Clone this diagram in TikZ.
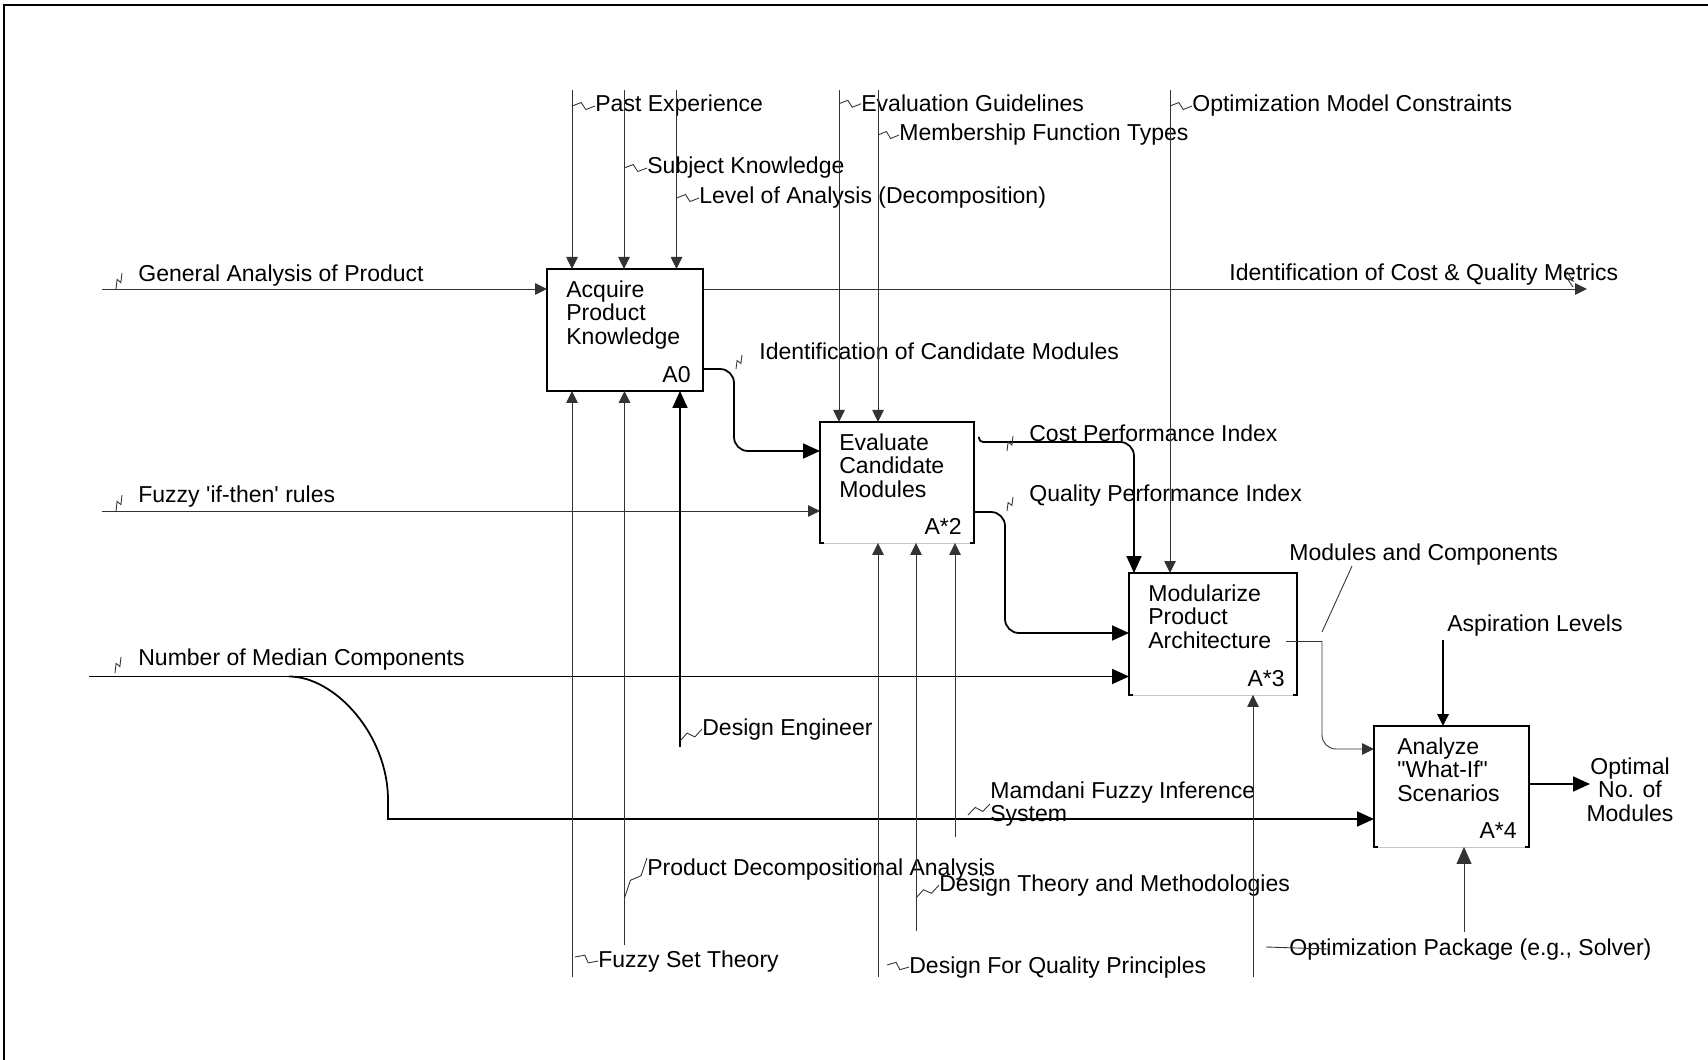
\documentclass[tikz,border=0pt]{standalone}
\usepackage{fontspec}
\setmainfont{Liberation Sans}
\usetikzlibrary{arrows.meta,calc}
\tikzset{
  actbox/.style={anchor=north west,inner sep=0pt,outer sep=0pt},
  boxtxt/.style={anchor=north west,align=left,inner sep=0pt},
  boxid/.style={anchor=south east,inner sep=0pt},
  lbl/.style={anchor=base west,inner sep=0pt},
  thinln/.style={line width=0.5pt,black!80},
  thickln/.style={line width=1pt},
  arr/.style={-{Triangle[length=2.4mm,width=2.3mm]}},
  barr/.style={-{Triangle[length=3.4mm,width=3mm]}},
  squig/.style={to path={-- ($(\tikztostart)!0.4!(\tikztotarget)!0.07cm!90:(\tikztotarget)$) -- ($(\tikztostart)!0.6!(\tikztotarget)!0.07cm!-90:(\tikztotarget)$) -- (\tikztotarget)}},
  bolt/.style={to path={-- ($(\tikztostart)!0.6!(\tikztotarget)+(-2.5,0)$) -- ($(\tikztostart)!0.4!(\tikztotarget)+(2.5,0)$) -- (\tikztotarget)}}
}
\begin{document}
\begin{tikzpicture}[x=0.02cm,y=-0.02cm,font=\fontsize{13.1pt}{13.4pt}\selectfont]
\useasboundingbox (0,0) rectangle (1708,1060);
\draw[line width=1.5pt] (4,1060) -- (4,5) -- (1708,5);

\node[actbox,draw,line width=0.8pt,minimum width=3.12cm,minimum height=2.44cm] (a0) at (547,269) {};
\node[actbox,minimum width=3.08cm,minimum height=2.42cm] (a2) at (820,422) {};
\node[actbox,minimum width=3.36cm,minimum height=2.44cm] (a3) at (1129,573) {};
\node[actbox,minimum width=3.10cm,minimum height=2.42cm] (a4) at (1374,726) {};
\draw[gray!45,line width=0.5pt] (a2.south west) -- (a2.south east);
\draw[line width=0.8pt] ([xshift=0.08cm]a2.south west) -- (a2.south west) -- (a2.north west) -- (a2.north east) -- (a2.south east) -- ([xshift=-0.08cm]a2.south east);
\draw[gray!45,line width=0.5pt] (a3.south west) -- (a3.south east);
\draw[line width=0.8pt] ([xshift=0.08cm]a3.south west) -- (a3.south west) -- (a3.north west) -- (a3.north east) -- (a3.south east) -- ([xshift=-0.08cm]a3.south east);
\draw[gray!45,line width=0.5pt] (a4.south west) -- (a4.south east);
\draw[line width=0.8pt] ([xshift=0.08cm]a4.south west) -- (a4.south west) -- (a4.north west) -- (a4.north east) -- (a4.south east) -- ([xshift=-0.08cm]a4.south east);

\node[boxtxt] (t0) at ($(a0.north west)+(19,11)$) {Acquire\\Product\\Knowledge};
\node[boxid] (n0) at ($(a0.south east)+(-12,-8)$) {A0};
\node[boxtxt] (t2) at ($(a2.north west)+(19,11)$) {Evaluate\\Candidate\\Modules};
\node[boxid] (n2) at ($(a2.south east)+(-12,-8)$) {A*2};
\node[boxtxt] (t3) at ($(a3.north west)+(19,11)$) {Modularize\\Product\\Architecture};
\node[boxid] (n3) at ($(a3.south east)+(-12,-8)$) {A*3};
\node[boxtxt] (t4) at ($(a4.north west)+(23,11)$) {Analyze\\\textquotedbl What-If\textquotedbl\\Scenarios};
\node[boxid] (n4) at ($(a4.south east)+(-12,-8)$) {A*4};

\node[lbl] (lPast) at (595,112) {Past Experience};
\node[lbl] (lEval) at (861,112) {Evaluation Guidelines};
\node[lbl] (lOptM) at (1192,112) {Optimization Model Constraints};
\node[lbl] (lMemb) at (899,141) {Membership Function Types};
\node[lbl] (lSubj) at (647,174) {Subject Knowledge};
\node[lbl] (lLevel) at (699,204) {Level of Analysis (Decomposition)};
\node[lbl] (lGen) at (138,282) {General Analysis of Product};
\node[lbl] (lIdCQ) at (1229,281) {Identification of Cost \& Quality Metrics};
\node[lbl] (lIdCM) at (759,360) {Identification of Candidate Modules};
\node[lbl] (lCost) at (1029,442) {Cost Performance Index};
\node[lbl] (lQual) at (1029,502) {Quality Performance Index};
\node[lbl] (lFuzzy) at (138,503) {Fuzzy \textquotesingle if-then\textquotesingle\ rules};
\node[lbl] (lMod) at (1289,561) {Modules and Components};
\node[lbl] (lAsp) at (1447,632) {Aspiration Levels};
\node[lbl] (lNum) at (138,665) {Number of Median Components};
\node[lbl] (lDE) at (702,735) {Design Engineer};
\node[anchor=north,align=center,inner sep=0pt] (lOpt) at (1630,757) {Optimal\\No. of\\Modules};
\node[anchor=north west,align=left,inner sep=0pt] (lMam) at (990,781) {Mamdani Fuzzy Inference\\System};
\node[lbl] (lPDA) at (647,875) {Product Decompositional Analysis};
\node[lbl] (lDTM) at (939,891) {Design Theory and Methodologies};
\node[lbl] (lOptP) at (1289,955) {Optimization Package (e.g., Solver)};
\node[lbl] (lFST) at (598,967) {Fuzzy Set Theory};
\node[lbl] (lDFQ) at (909,973) {Design For Quality Principles};

\coordinate (c1) at (572,90);
\coordinate (c2) at (624,90);
\coordinate (c3) at (676.5,90);
\coordinate (c4) at (839,90);
\coordinate (c5) at (878,90);
\coordinate (c6) at (1170,90);
\draw[thinln,arr] (c1) -- (c1 |- a0.north);
\draw[thinln,arr] (c2) -- (c2 |- a0.north);
\draw[thinln,arr] (c3) -- (c3 |- a0.north);
\draw[thinln,arr] (c4) -- (c4 |- a2.north);
\draw[thinln,arr] (c5) -- (c5 |- a2.north);
\draw[thinln,arr] (c6) -- (c6 |- a3.north);
\draw[thinln,squig] (c1 |- lPast.west) to (lPast.west);
\draw[thinln,squig] (c2 |- lSubj.west) to (lSubj.west);
\draw[thinln,squig] (c3 |- lLevel.west) to (lLevel.west);
\draw[thinln,squig] (c4 |- lEval.west) to (lEval.west);
\draw[thinln,squig] (c5 |- lMemb.west) to (lMemb.west);
\draw[thinln,squig] (c6 |- lOptM.west) to (lOptM.west);

\coordinate (i1) at (102,289);
\coordinate (i2) at (102,511);
\coordinate (i3) at (89,676.5);
\coordinate (br) at (289,676.5);
\draw[thinln,arr] (i1) -- (i1 -| a0.west);
\draw[thinln,arr] (i2) -- (i2 -| a2.west);
\draw[thickln,barr] (i3) -- (i3 -| a3.west);
\draw[thickln,barr] (br) .. controls (335,676.5) and (388,735) .. (388,800) -- (388,819) -- (a4.west |- 0,819);
\draw[thinln,bolt] (116,289) to (122,273);
\draw[thinln,bolt] (116,511) to (122,495);
\draw[thinln,bolt] (115,673) to (121,657);

\coordinate (o1) at (1587,289);
\draw[thinln,arr] (o1 -| a0.east) -- (o1);
\draw[thinln,bolt] (1573,287) to (1567,272);
\draw[thickln,barr,rounded corners=0.28cm] (a0.east |- 0,369) -- (734,369) -- (734,451) -- (a2.west |- 0,451);
\draw[thinln,bolt] (736,369) to (742,355);

\coordinate (k0) at (979,437);
\coordinate (k1) at (984,442);
\draw[thickln,rounded corners=0.08cm] (k0) -- (979,442) -- (k1);
\draw[thickln,barr,rounded corners=0.28cm] (k1) -- (1134,442) -- (1134,0 |- a3.north);
\draw[thinln,bolt] (1007,451) to (1013,436);
\draw[thickln,barr,rounded corners=0.28cm] (a2.east |- 0,512) -- (1005,512) -- (1005,633) -- (a3.west |- 0,633);
\draw[thinln,bolt] (1007,511) to (1013,497);

\coordinate (m0) at (1286,641);
\coordinate (m1) at (1322,641);
\coordinate (m2) at (1322,632);
\draw[thinln] (m0) -- (m1);
\draw[thinln,arr,rounded corners=0.28cm] (m1) -- (1322,749) -- (a4.west |- 0,749);
\draw[thinln] (m2) -- ([xshift=1.26cm]lMod.south west);

\coordinate (s0) at (1443,640);
\draw[thickln,arr] (s0) -- (s0 |- a4.north);
\coordinate (o2) at (1590,784);
\draw[thickln,barr] (o2 -| a4.east) -- (o2);

\coordinate (p0) at (1464,932);
\coordinate (p1) at (1253,977);
\coordinate (p2) at (878,977);
\coordinate (p3) at (916,931);
\coordinate (p4) at (955,837);
\coordinate (p5) at (572,977);
\coordinate (p6) at (624.5,945);
\coordinate (p7) at (680,747);
\draw[thinln,barr] (p0) -- (p0 |- a4.south);
\draw[thinln,arr] (p1) -- (p1 |- a3.south);
\draw[thinln,arr] (p2) -- (p2 |- a2.south);
\draw[thinln,arr] (p3) -- (p3 |- a2.south);
\draw[thinln,arr] (p4) -- (p4 |- a2.south);
\draw[thinln,arr] (p5) -- (p5 |- a0.south);
\draw[thinln,arr] (p6) -- (p6 |- a0.south);
\draw[thickln,barr] (p7) -- (p7 |- a0.south);
\draw[thinln] (1266,947) -- ([xshift=0.8cm]lOptP.west);
\draw[thinln,squig] (887,965) to (lDFQ.west);
\draw[thinln,squig] (p3 |- 0,898) to (lDTM.west);
\draw[thinln,squig] (968,815) to (lMam.west);
\draw[thinln,squig] (575,957) to (lFST.west);
\draw[thinln,squig] (p6 |- 0,898) to (lPDA.north west);
\draw[thinln,squig] (p7 |- 0,741) to (lDE.west);
\end{tikzpicture}
\end{document}
